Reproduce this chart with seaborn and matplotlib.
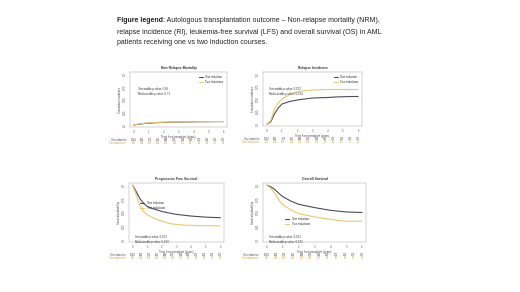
import numpy as np
import pandas as pd
import matplotlib
matplotlib.use("Agg")
import matplotlib.pyplot as plt
import matplotlib.transforms as mtransforms
import seaborn as sns

# Valores (tiempo en años desde el trasplante)
times = [0, 0.25, 0.5, 0.75, 1, 1.5, 2, 2.5, 3, 3.5, 4, 4.5, 5, 5.5, 6]

nrm_one = [0, 0.01, 0.02, 0.03, 0.035, 0.045, 0.05, 0.055, 0.058, 0.06, 0.062, 0.064, 0.065, 0.066, 0.067]
nrm_two = [0, 0.015, 0.025, 0.035, 0.04, 0.05, 0.055, 0.058, 0.06, 0.062, 0.064, 0.065, 0.066, 0.067, 0.068]

ri_one = [0, 0.04, 0.2, 0.32, 0.40, 0.45, 0.48, 0.50, 0.52, 0.525, 0.53, 0.54, 0.545, 0.55, 0.55]
ri_two = [0, 0.06, 0.30, 0.42, 0.50, 0.59, 0.645, 0.665, 0.68, 0.685, 0.69, 0.69, 0.69, 0.69, 0.69]

pfs_one = [1, 0.88, 0.75, 0.67, 0.61, 0.56, 0.52, 0.49, 0.465, 0.45, 0.435, 0.425, 0.415, 0.41, 0.405]
pfs_two = [1, 0.82, 0.62, 0.52, 0.455, 0.39, 0.34, 0.30, 0.28, 0.27, 0.265, 0.26, 0.258, 0.256, 0.255]

os_one = [1, 0.97, 0.92, 0.85, 0.79, 0.71, 0.65, 0.62, 0.59, 0.565, 0.54, 0.525, 0.51, 0.505, 0.50]
os_two = [1, 0.94, 0.85, 0.73, 0.64, 0.55, 0.48, 0.45, 0.42, 0.395, 0.375, 0.355, 0.34, 0.34, 0.34]

# Tabla de pacientes en riesgo
risk_times = list(np.round(np.linspace(0, 6, 12), 3))
risk_one = [1054, 892, 763, 651, 548, 470, 398, 330, 271, 219, 170, 121]
risk_two = [387, 318, 262, 214, 176, 149, 121, 98, 80, 63, 47, 33]

group_labels = ["One induction", "Two inductions"]
titles = ["Non Relapse Mortality", "Relapse Incidence", "Progression Free Survival", "Overall Survival"]
ylabels = ["Cumulative incidence", "Cumulative incidence", "Survival probability", "Survival probability"]
pvalues = [("0.86", "0.71"), ("0.002", "0.004"), ("0.001", "0.003"), ("0.001", "0.002")]

sns.set_style("white")
plt.rcParams['font.family'] = ['Liberation Sans', 'DejaVu Sans']

dark = "#4a4c5e"
light = "#ebc86e"

fig = plt.figure(figsize=(5.2, 2.92), dpi=100)

# Leyenda de la figura
t1 = fig.text(117 / 520, 1 - 21 / 292, "Figure legend", fontsize=5.05, fontweight="bold",
              color="#222222", va="center")
fig.canvas.draw()
bb = t1.get_window_extent(fig.canvas.get_renderer())
fig.text(bb.x1 / 520, 1 - 21 / 292,
         ": Autologous transplantation outcome \u2013 Non-relapse mortality (NRM),",
         fontsize=5.05, color="#222222", va="center")
fig.text(117 / 520, 1 - 32 / 292,
         "relapse incidence (RI), leukemia-free survival (LFS) and overall survival (OS) in AML",
         fontsize=5.05, color="#222222", va="center")
fig.text(117 / 520, 1 - 43 / 292,
         "patients receiving one vs two induction courses.",
         fontsize=5.05, color="#222222", va="center")

# Posiciones de los paneles en píxeles (x0, y0, x1, y1)
boxes = [(130, 72, 227, 127), (263, 72, 362, 126), (129, 183, 224, 242), (263, 183, 366, 242)]
series = [(nrm_one, nrm_two), (ri_one, ri_two), (pfs_one, pfs_two), (os_one, os_two)]
legend_locs = [(0.98, 0.97, "upper right"), (0.98, 0.97, "upper right"),
               (0.1, 0.72, "upper left"), (0.2, 0.45, "upper left")]
pval_pos = [(0.08, 0.72), (0.06, 0.72), (0.06, 0.12), (0.06, 0.12)]

for i, (x0, y0, x1, y1) in enumerate(boxes):
    ax = fig.add_axes([x0 / 520, 1 - y1 / 292, (x1 - x0) / 520, (y1 - y0) / 292])
    one, two = series[i]
    df = pd.DataFrame({"time": times * 2, "value": one + two,
                       "group": [group_labels[0]] * len(times) + [group_labels[1]] * len(times)})
    sns.lineplot(data=df, x="time", y="value", hue="group", palette=[dark, light],
                 linewidth=0.8, ax=ax, legend=True)
    ax.set_xlim(-0.25, 6.25)
    ax.set_ylim(-0.04, 1.04)
    ax.set_xticks(range(7))
    ax.set_yticks([0, 0.25, 0.5, 0.75, 1.0])
    ax.set_yticklabels(["0.0", "0.25", "0.50", "0.75", "1.0"], rotation=90, va="center")
    ax.tick_params(labelsize=2, length=1.2, width=0.3, pad=1, colors="#555555")
    ax.set_title(titles[i], fontsize=2.4, fontweight="bold", pad=2, color="#333333")
    ax.set_xlabel("Time from transplant (years)", fontsize=2, labelpad=1, color="#444444")
    ax.set_ylabel(ylabels[i], fontsize=2, labelpad=1, color="#444444")
    for s in ax.spines.values():
        s.set_linewidth(0.3)
        s.set_color("#999999")
    lx, ly, lloc = legend_locs[i]
    ax.legend(loc=lloc, bbox_to_anchor=(lx, ly), fontsize=2, frameon=False,
              handlelength=1.5, labelspacing=0.2, borderaxespad=0.2)
    pv_x, pv_y = pval_pos[i]
    ax.text(pv_x, pv_y, "Univariable p value: " + pvalues[i][0] + "\nMultivariable p value: " + pvalues[i][1],
            transform=ax.transAxes, fontsize=2, color="#333333", va="top", linespacing=1.2)

    # Tabla en riesgo bajo el eje
    h = y1 - y0
    r1 = -(13 / h)
    r2 = -(16 / h)
    trans = mtransforms.blended_transform_factory(ax.transData, ax.transAxes)
    for t, n1, n2 in zip(risk_times, risk_one, risk_two):
        ax.text(t, r1, str(n1), transform=trans, fontsize=1.8, ha="center", va="center", color=dark)
        ax.text(t, r2, str(n2), transform=trans, fontsize=1.8, ha="center", va="center", color="#c9a040")
    ax.text(-0.04, r1, group_labels[0], transform=ax.transAxes, fontsize=1.8, ha="right", va="center", color=dark)
    ax.text(-0.04, r2, group_labels[1], transform=ax.transAxes, fontsize=1.8, ha="right", va="center", color="#c9a040")

fig.savefig("out.png", dpi=100)
